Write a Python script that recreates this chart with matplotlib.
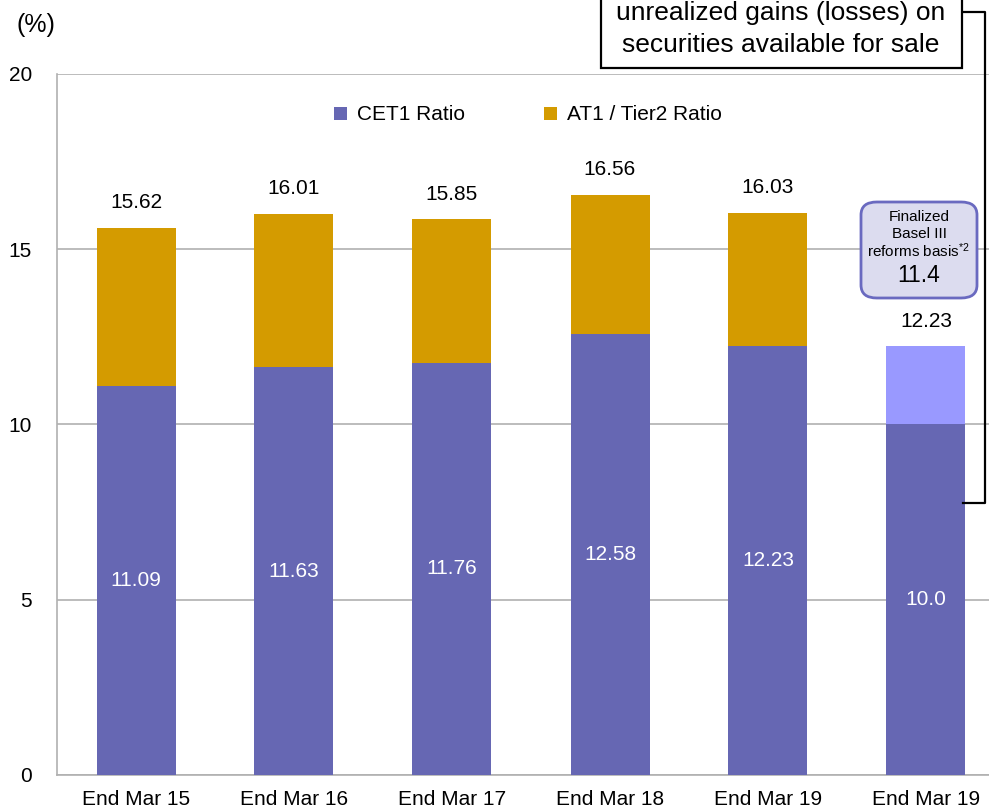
import matplotlib
matplotlib.use("Agg")
import matplotlib.pyplot as plt
from matplotlib.patches import Rectangle, FancyBboxPatch
from matplotlib.lines import Line2D

plt.rcParams['font.family'] = ['Liberation Sans', 'DejaVu Sans']
plt.rcParams['mathtext.fontset'] = 'custom'
plt.rcParams['mathtext.rm'] = 'Liberation Sans'
plt.rcParams['mathtext.it'] = 'Liberation Sans'

categories = ["End Mar 15", "End Mar 16", "End Mar 17", "End Mar 18", "End Mar 19", "End Mar 19"]
cet1 = [11.09, 11.63, 11.76, 12.58, 12.23, 10.0]
totals = [15.62, 16.01, 15.85, 16.56, 16.03, None]
last_excl_total = 12.23
finalized_label = "11.4"
yticks = [0, 5, 10, 15, 20]

C_CET1 = "#6667B3"
C_AT1 = "#D49B00"
C_LIGHT = "#9999FF"

W, H = 989, 807
fig = plt.figure(figsize=(W / 100, H / 100), dpi=100)
ax = fig.add_axes([57 / W, (H - 775) / H, (W - 57) / W, 701 / H])

x = list(range(len(categories)))
bw = 0.5
n_full = 5
at1 = [totals[i] - cet1[i] for i in range(n_full)]

ax.bar(x, cet1, width=bw, color=C_CET1, zorder=3, label="CET1 Ratio")
ax.bar(x[:n_full], at1, bottom=cet1[:n_full], width=bw, color=C_AT1, zorder=3,
       label="AT1 / Tier2 Ratio")
ax.bar([x[5]], [last_excl_total - cet1[5]], bottom=[cet1[5]], width=bw,
       color=C_LIGHT, zorder=3)

for i in range(len(categories)):
    ax.text(x[i], cet1[i] / 2, f"{cet1[i]:.2f}" if i < n_full else f"{cet1[i]:.1f}",
            ha="center", va="center", color="white", fontsize=15, zorder=4)
for i in range(n_full):
    ax.text(x[i], totals[i] + 0.45, f"{totals[i]:.2f}", ha="center", va="bottom",
            fontsize=15, zorder=4)
ax.text(x[5], last_excl_total + 0.45, f"{last_excl_total:.2f}", ha="center",
        va="bottom", fontsize=15, zorder=4)

ax.set_xlim(-0.5, (W - 57) / 158 - 0.5)
ax.set_ylim(0, 20)
ax.set_yticks(yticks)
ax.set_xticks(x)
ax.set_xticklabels(categories, fontsize=15)
ax.tick_params(axis="y", length=0, pad=18, labelsize=15)
ax.tick_params(axis="x", length=0, pad=11)
ax.yaxis.grid(True, color="#B0B0B0", linewidth=1.2, zorder=0)
for s in ["top", "right"]:
    ax.spines[s].set_visible(False)
for s in ["left", "bottom"]:
    ax.spines[s].set_color("#B0B0B0")
    ax.spines[s].set_linewidth(1.2)

leg = ax.legend(loc="center", bbox_to_anchor=(528 / W, (H - 115) / H),
                bbox_transform=fig.transFigure, ncol=2, frameon=False,
                fontsize=15, handlelength=0.6, handleheight=0.6,
                handletextpad=0.5, columnspacing=3.8)

fig.text(17 / W, (H - 25) / H, "(%)", fontsize=18, ha="left", va="center")

# top callout box (cut off by figure top)
def fx(px):
    return px / W

def fy(py):
    return (H - py) / H

box = Rectangle((fx(601), fy(68)), fx(962) - fx(601), 0.2, transform=fig.transFigure,
                facecolor="white", edgecolor="black", linewidth=1.6, clip_on=False, zorder=5)
fig.patches.append(box)
fig.text(fx(781), fy(13), "unrealized gains (losses) on", fontsize=19,
         ha="center", va="center", zorder=6)
fig.text(fx(781), fy(45), "securities available for sale", fontsize=19,
         ha="center", va="center", zorder=6)

bracket = Line2D([fx(962), fx(985), fx(985), fx(963)], [fy(12), fy(12), fy(503), fy(503)],
                 transform=fig.transFigure, color="black", linewidth=1.6, zorder=5)
fig.lines.append(bracket)

# Finalized Basel III box
fb = FancyBboxPatch((fx(861), fy(298)), fx(977) - fx(861), fy(202) - fy(298),
                    boxstyle="round,pad=0,rounding_size=0.016", transform=fig.transFigure,
                    facecolor="#DCDCEF", edgecolor="#6A6AC0", linewidth=2, zorder=5)
fig.patches.append(fb)
fig.text(fx(919), fy(217), "Finalized", fontsize=11, ha="center", va="center", zorder=6)
fig.text(fx(919), fy(234), "Basel III", fontsize=11, ha="center", va="center", zorder=6)
fig.text(fx(919), fy(251), r"reforms basis$^{*2}$", fontsize=11, ha="center", va="center", zorder=6)
fig.text(fx(919), fy(276), finalized_label, fontsize=16.5, ha="center", va="center", zorder=6)

fig.savefig("out.png", dpi=100)
